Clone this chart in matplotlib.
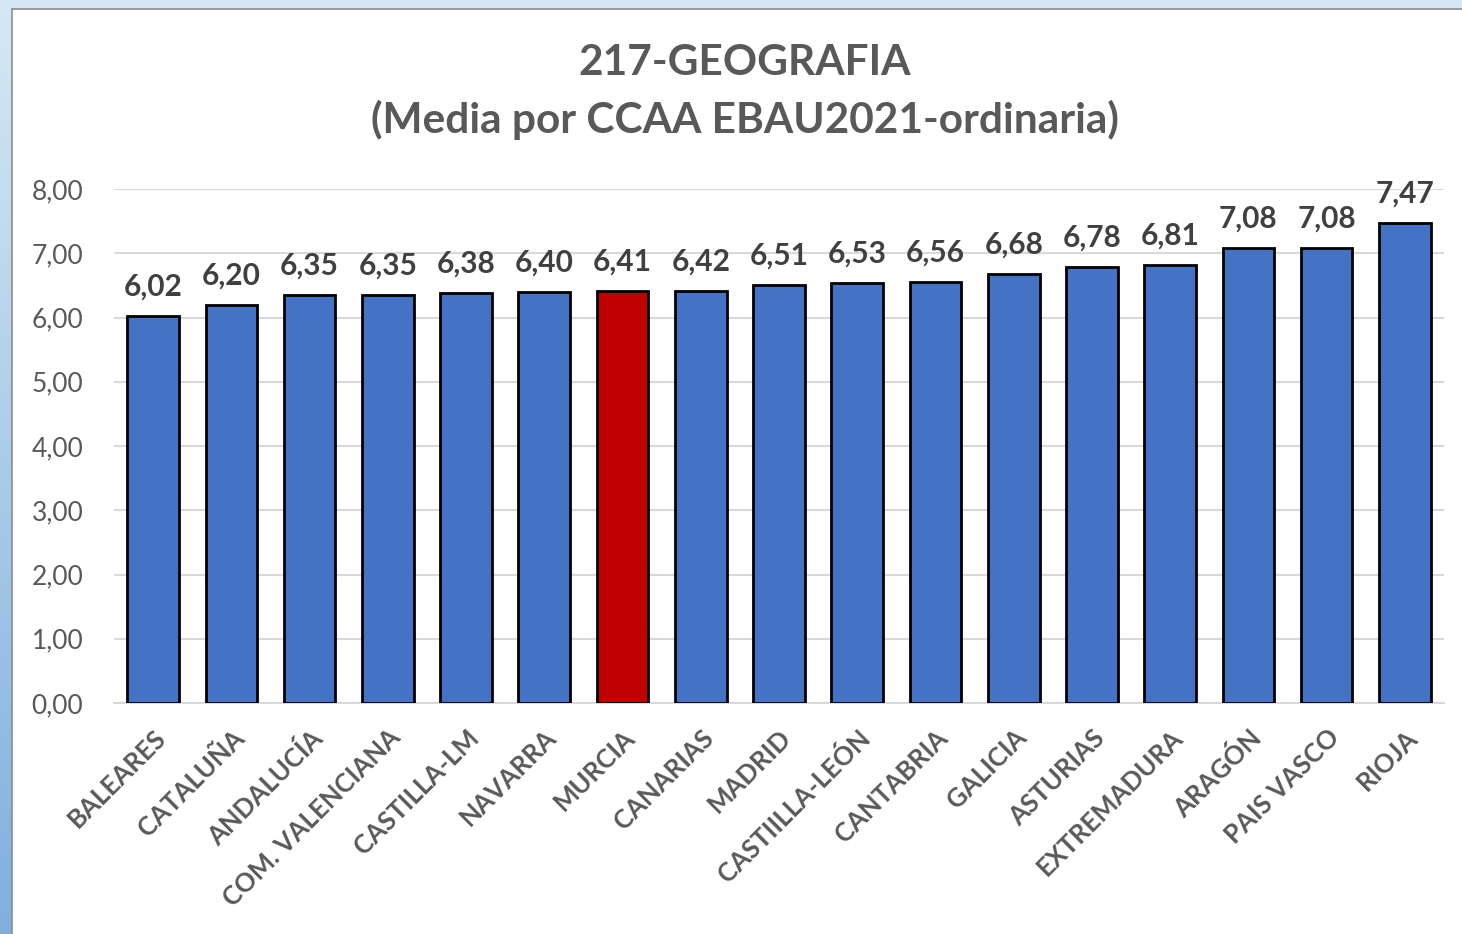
import numpy as np
import matplotlib
matplotlib.use("Agg")
from matplotlib import pyplot as plt
from matplotlib.patches import Rectangle

plt.rcParams['font.family'] = ['Lato', 'DejaVu Sans']

regiones = ["BALEARES", "CATALUÑA", "ANDALUCÍA", "COM. VALENCIANA", "CASTILLA-LM",
            "NAVARRA", "MURCIA", "CANARIAS", "MADRID", "CASTIILLA-LEÓN", "CANTABRIA",
            "GALICIA", "ASTURIAS", "EXTREMADURA", "ARAGÓN", "PAIS VASCO", "RIOJA"]
medias = [6.02, 6.20, 6.35, 6.35, 6.38, 6.40, 6.41, 6.42, 6.51, 6.53, 6.56,
          6.68, 6.78, 6.81, 7.08, 7.08, 7.47]
destacada = "MURCIA"

gris = "#595959"
W, H = 1462, 934
fig = plt.figure(figsize=(W / 100, H / 100), dpi=100)

# fondo: marco azul claro con degradado en el borde izquierdo
bg = fig.add_axes([0, 0, 1, 1])
grad = np.linspace(0, 1, 256).reshape(-1, 1)
bg.imshow(grad, cmap=matplotlib.colors.LinearSegmentedColormap.from_list(
    "fondo", ["#7fb0dd", "#d6e8f5"]), aspect="auto", extent=[0, 1, 0, 1], origin="lower")
bg.add_patch(Rectangle((12 / W, -0.01), 1, 1 - 9 / H + 0.01, facecolor="white",
                       edgecolor="#8c8c8c", linewidth=1.2))
bg.set_xlim(0, 1)
bg.set_ylim(0, 1)
bg.axis("off")

ax = fig.add_axes([114 / W, 1 - 703 / H, (1444 - 114) / W, (703 - 189) / H])
ax.set_facecolor("none")
x = np.arange(len(regiones))
colores = ["#c00000" if r == destacada else "#4472c4" for r in regiones]
ax.bar(x, medias, width=0.66, color=colores, edgecolor="black", linewidth=2, zorder=3)

for xi, v in zip(x, medias):
    ax.text(xi, v + 0.24, f"{v:.2f}".replace(".", ","), ha="center", va="bottom",
            fontsize=21.5, fontweight="bold", color="#404040")

ax.set_xlim(-0.5, len(regiones) - 0.5)
ax.set_ylim(0, 8)
ax.set_yticks(np.arange(0, 9, 1))
ax.set_yticklabels([f"{t:.2f}".replace(".", ",") for t in np.arange(0, 9, 1)],
                   fontsize=19, color=gris)
ax.grid(axis="y", color="#d9d9d9", linewidth=1.5, zorder=0)
ax.set_xticks(x)
ax.set_xticklabels(regiones, rotation=45, ha="right", rotation_mode="anchor",
                   fontsize=18.5, fontweight="bold", color=gris)
ax.tick_params(axis="x", length=0, pad=16)
ax.tick_params(axis="y", length=0, pad=22)
for s in ["top", "right", "left"]:
    ax.spines[s].set_visible(False)
ax.spines["bottom"].set_color("#d9d9d9")
ax.spines["bottom"].set_linewidth(1.5)

fig.text(745 / W, 1 - 63 / H, "217-GEOGRAFIA", ha="center", va="center",
         fontsize=30.5, fontweight="bold", color=gris)
fig.text(745 / W, 1 - 120 / H, "(Media por CCAA EBAU2021-ordinaria)", ha="center",
         va="center", fontsize=30.5, fontweight="bold", color=gris)

plt.savefig("out.png", dpi=100)
